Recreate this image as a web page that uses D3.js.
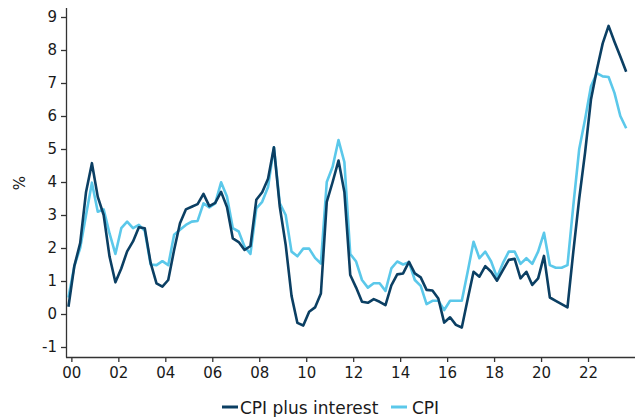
<!DOCTYPE html>
<html><head><meta charset="utf-8">
<script src="https://cdn.jsdelivr.net/npm/d3@7"></script>
<style>body{margin:0;background:#fff}svg{display:block}</style>
</head><body><div id="chart"></div>
<script>
// Quarterly values, first quarter plotted at 1999.875
const startYear = 1999.875;
const cpiPlusInterest = [
0.22,1.45,2.15,3.7,4.57,3.55,3.0,1.74,0.96,1.38,
1.9,2.2,2.63,2.6,1.55,0.93,0.83,1.03,1.94,2.75,
3.17,3.25,3.33,3.64,3.27,3.37,3.7,3.24,2.29,2.18,
1.94,2.06,3.46,3.69,4.1,5.05,3.25,2.1,0.55,-0.27,
-0.35,0.07,0.2,0.62,3.4,4.0,4.65,3.7,1.18,0.8,
0.37,0.34,0.45,0.37,0.27,0.87,1.2,1.23,1.58,1.23,
1.11,0.73,0.71,0.47,-0.26,-0.1,-0.33,-0.41,0.45,1.28,
1.13,1.45,1.28,1.01,1.33,1.64,1.67,1.08,1.28,0.88,
1.08,1.76,0.5,0.4,0.3,0.2,1.9,3.5,4.9,6.5,
7.4,8.2,8.73,8.25,7.8,7.34];
const cpi = [
0.5,1.45,2.0,3.0,3.98,3.1,3.17,2.44,1.82,2.6,
2.8,2.6,2.7,2.52,1.5,1.48,1.6,1.48,2.4,2.55,
2.7,2.8,2.82,3.35,3.23,3.35,3.99,3.56,2.6,2.5,
2.04,1.82,3.2,3.4,3.85,5.05,3.35,3.0,1.89,1.75,
1.98,1.98,1.7,1.53,4.0,4.46,5.27,4.6,1.82,1.59,
1.03,0.8,0.93,0.93,0.7,1.38,1.59,1.5,1.57,1.03,
0.85,0.3,0.4,0.4,0.12,0.4,0.4,0.4,1.28,2.19,
1.69,1.89,1.59,1.11,1.54,1.89,1.89,1.52,1.69,1.52,
1.89,2.46,1.48,1.4,1.4,1.48,3.3,5.0,5.9,6.9,
7.3,7.2,7.18,6.7,6.0,5.63];
const xTicks = [2000,2002,2004,2006,2008,2010,2012,2014,2016,2018,2020,2022];
const xTickLabels = ["00","02","04","06","08","10","12","14","16","18","20","22"];
const yTicks = [-1,0,1,2,3,4,5,6,7,8,9];
const seriesNames = ["CPI plus interest","CPI"];
const seriesColors = ["#0b3f63","#5bc8ea"];

const W = 642, H = 417;
const svg = d3.select("#chart").append("svg").attr("width", W).attr("height", H);
const font = "'DejaVu Sans', Verdana, sans-serif";

const x = d3.scaleLinear().domain([1999.75, 2024]).range([65.5, 635]);
const y = d3.scaleLinear().domain([-1, 9]).range([347, 17]);

// y axis
const yAxis = svg.append("g").attr("transform", "translate(66,0)")
  .call(d3.axisLeft(y).tickValues(yTicks).tickSize(5).tickPadding(4).tickFormat(d => d));
yAxis.select(".domain").attr("d", "M0.5,8V357.5");
// x axis
const xAxis = svg.append("g").attr("transform", "translate(0,357)")
  .call(d3.axisBottom(x).tickValues(xTicks).tickSize(5).tickPadding(5)
    .tickFormat((d, i) => xTickLabels[i]));
xAxis.select(".domain").attr("d", "M66,0.5H635");
svg.selectAll(".tick text").attr("font-family", font).attr("font-size", 15).attr("fill", "#1a1a1a");
svg.selectAll(".domain, .tick line").attr("stroke", "#333").attr("stroke-width", 1.3);

svg.append("text").attr("transform", "translate(25,183) rotate(-90)")
  .attr("text-anchor", "middle").attr("font-family", font).attr("font-size", 15)
  .attr("fill", "#1a1a1a").text("%");

const line = d3.line().x((d, i) => x(startYear + i * 0.25)).y(d => y(d));
[cpi, cpiPlusInterest].forEach((s, k) => {
  const idx = k === 0 ? 1 : 0;
  svg.append("path").datum(s).attr("d", line).attr("fill", "none")
    .attr("stroke", seriesColors[idx]).attr("stroke-width", 2.6)
    .attr("stroke-linejoin", "round");
});

// legend
const lg = svg.append("g").attr("font-family", font).attr("font-size", 17).attr("fill", "#1a1a1a");
const items = [{x: 222, tx: 240}, {x: 391, tx: 412}];
items.forEach((it, i) => {
  lg.append("line").attr("x1", it.x).attr("x2", it.x + 16).attr("y1", 407).attr("y2", 407)
    .attr("stroke", seriesColors[i]).attr("stroke-width", 3);
  lg.append("text").attr("x", it.tx).attr("y", 413.5).text(seriesNames[i]);
});
</script></body></html>
